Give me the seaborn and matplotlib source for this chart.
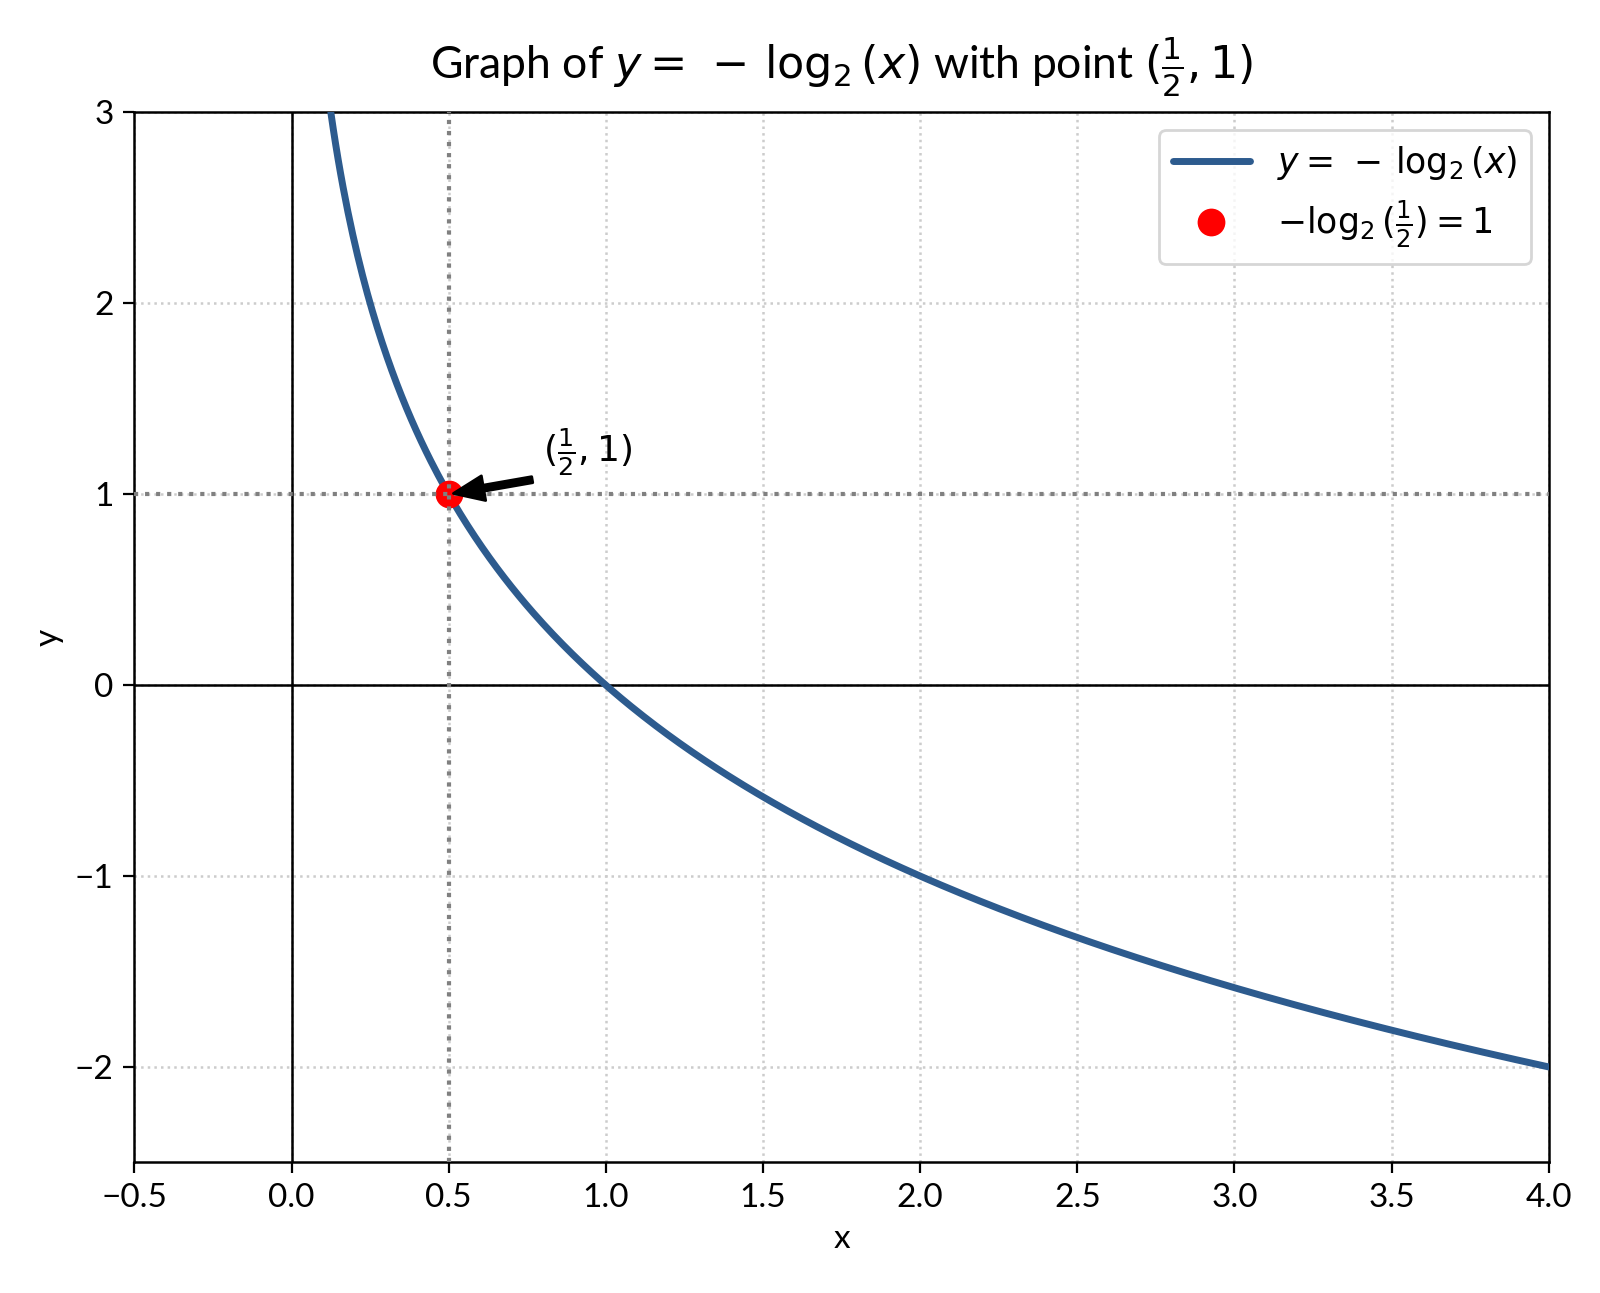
import numpy as np
import pandas as pd
import matplotlib
matplotlib.use("Agg")
import matplotlib.pyplot as plt
import seaborn as sns

# Data
x_start, x_end = 0.125, 4.0
x_vals = np.linspace(x_start, x_end, 500)
y_vals = -np.log2(x_vals)
point_x = [0.5]
point_y = [1.0]
x_ticks = [-0.5, 0.0, 0.5, 1.0, 1.5, 2.0, 2.5, 3.0, 3.5, 4.0]
y_ticks = [-2, -1, 0, 1, 2, 3]

sns.set_style("ticks")
plt.rcParams['font.family'] = ['Lato', 'DejaVu Sans']
plt.rcParams['mathtext.fontset'] = 'dejavusans'
plt.rcParams['text.color'] = 'black'
plt.rcParams['axes.labelcolor'] = 'black'
plt.rcParams['xtick.color'] = 'black'
plt.rcParams['ytick.color'] = 'black'

fig = plt.figure(figsize=(8, 6.465), dpi=200)
ax = fig.add_axes([0.084, 0.101, 0.884, 0.812])

curve_label = r"$y = \,-\,\log_2(x)$"
curve = pd.DataFrame({"x": x_vals, "y": y_vals})
sns.lineplot(data=curve, x="x", y="y", ax=ax, color="#2d5b8e", linewidth=2.5,
             label=curve_label, zorder=3)
pt = pd.DataFrame({"x": point_x, "y": point_y})
sns.lineplot(data=pt, x="x", y="y", ax=ax, color="red", marker="o", markersize=10,
             markeredgewidth=0, linestyle="", label=r"$-\log_2(\frac{1}{2}) = 1$", zorder=4)

ax.axhline(0, color="black", linewidth=0.9, zorder=2)
ax.axvline(0, color="black", linewidth=0.9, zorder=2)
ax.axhline(point_y[0], color="gray", linestyle=":", linewidth=1.5, zorder=5)
ax.axvline(point_x[0], color="gray", linestyle=":", linewidth=1.5, zorder=5)

ax.annotate(r"$(\frac{1}{2}, 1)$", xy=(point_x[0], point_y[0]), xytext=(0.8, 1.17),
            fontsize=13,
            arrowprops=dict(facecolor="black", edgecolor="black", shrink=0.05,
                            width=2.2, headwidth=9, headlength=11), zorder=6)

ax.set_xlim(-0.5, 4.0)
ax.set_ylim(-2.5, 3.0)
ax.set_xticks(x_ticks)
ax.set_yticks(y_ticks)
ax.grid(True, linestyle=":", color="#cccccc", linewidth=0.9)
ax.tick_params(labelsize=12, direction="out", length=4)
for s in ax.spines.values():
    s.set_color("black")
    s.set_linewidth(0.9)
ax.set_xlabel("x", fontsize=12)
ax.set_ylabel("y", fontsize=12)
ax.set_title(r"Graph of $y = \,-\,\log_2(x)$ with point $(\frac{1}{2}, 1)$", fontsize=16, pad=12)
ax.legend(loc="upper right", fontsize=12.5, frameon=True, handlelength=2.2)

fig.savefig("out.png", dpi=200)
